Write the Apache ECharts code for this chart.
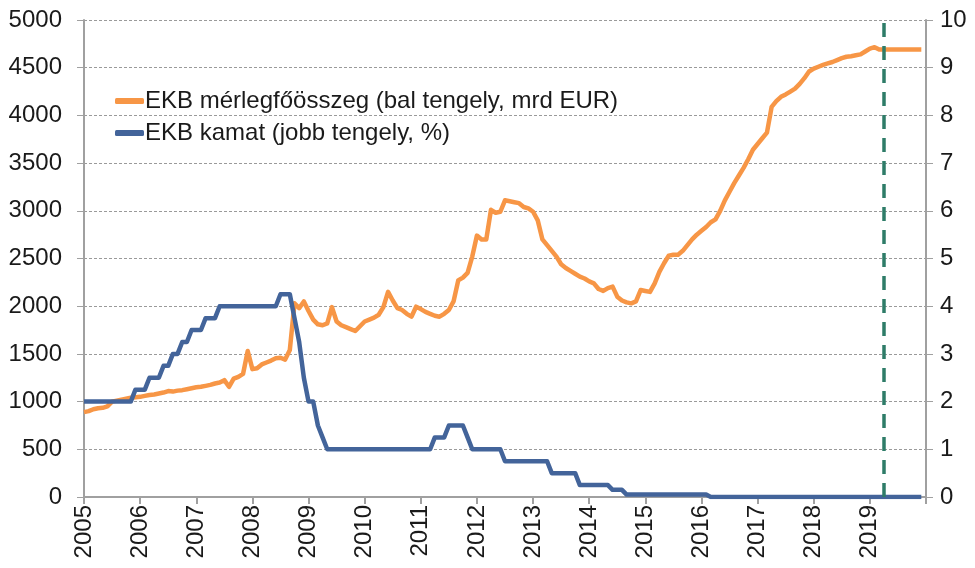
<!DOCTYPE html>
<html>
<head>
<meta charset="utf-8">
<script src="https://cdn.jsdelivr.net/npm/echarts@6/dist/echarts.min.js"></script>
<style>
  html, body { margin: 0; padding: 0; background: #fff; }
  #chart { width: 975px; height: 568px; }
</style>
</head>
<body>
<div id="chart"></div>
<script>
// havi adatok, 2005-01 .. 2019-12
var startYear = 2005;
var yearTicks = [2005, 2006, 2007, 2008, 2009, 2010, 2011, 2012, 2013, 2014, 2015, 2016, 2017, 2018, 2019, 2020];
var leftTicks = [0, 500, 1000, 1500, 2000, 2500, 3000, 3500, 4000, 4500, 5000];
var rightTicks = [0, 1, 2, 3, 4, 5, 6, 7, 8, 9, 10];
var markerYear = 2019.25; // szaggatott függőleges vonal

var legendNames = ["EKB mérlegfőösszeg (bal tengely, mrd EUR)", "EKB kamat (jobb tengely, %)"];

// EKB mérlegfőösszeg, mrd EUR
var balanceSheet = [
  890, 900, 920, 930, 935, 950, 1000, 1010, 1020, 1030, 1040, 1045,
  1050, 1060, 1070, 1075, 1085, 1095, 1110, 1105, 1115, 1120, 1130, 1140,
  1150, 1155, 1165, 1175, 1190, 1200, 1225, 1155, 1240, 1260, 1290, 1530,
  1340, 1350, 1390, 1410, 1430, 1455, 1460, 1440, 1540, 2030, 1980, 2050,
  1950, 1860, 1810, 1800, 1820, 1990, 1840, 1800, 1780, 1760, 1740, 1790,
  1840, 1860, 1880, 1910, 1990, 2150, 2060, 1980, 1960, 1920, 1890, 1995,
  1970, 1940, 1920, 1900, 1890, 1920, 1960, 2050, 2270, 2300, 2350, 2520,
  2740, 2700, 2700, 3010, 2980, 2990, 3110, 3100, 3090, 3080, 3040, 3025,
  2990, 2900, 2700, 2640, 2580, 2520, 2440, 2400, 2370, 2340, 2310, 2290,
  2260, 2240, 2180, 2160, 2190, 2205, 2100, 2060, 2040, 2030, 2050, 2170,
  2160, 2150, 2240, 2360, 2450, 2530, 2540, 2540, 2580, 2640, 2700, 2750,
  2790, 2830, 2880, 2910, 3000, 3110, 3200, 3290, 3370, 3450, 3540, 3640,
  3700, 3760, 3820, 4090, 4150, 4195, 4220, 4250, 4280, 4330, 4390, 4460,
  4490, 4510, 4530, 4545, 4560, 4580, 4600, 4615, 4620, 4630, 4640, 4670,
  4700, 4715, 4690, 4690, 4690, 4690, 4690, 4690, 4690, 4690, 4690, 4690
];

// EKB irányadó kamat, %
var ecbRate = [
  2.0, 2.0, 2.0, 2.0, 2.0, 2.0, 2.0, 2.0, 2.0, 2.0, 2.0, 2.25,
  2.25, 2.25, 2.5, 2.5, 2.5, 2.75, 2.75, 3.0, 3.0, 3.25, 3.25, 3.5,
  3.5, 3.5, 3.75, 3.75, 3.75, 4.0, 4.0, 4.0, 4.0, 4.0, 4.0, 4.0,
  4.0, 4.0, 4.0, 4.0, 4.0, 4.0, 4.25, 4.25, 4.25, 3.75, 3.25, 2.5,
  2.0, 2.0, 1.5, 1.25, 1.0, 1.0, 1.0, 1.0, 1.0, 1.0, 1.0, 1.0,
  1.0, 1.0, 1.0, 1.0, 1.0, 1.0, 1.0, 1.0, 1.0, 1.0, 1.0, 1.0,
  1.0, 1.0, 1.0, 1.25, 1.25, 1.25, 1.5, 1.5, 1.5, 1.5, 1.25, 1.0,
  1.0, 1.0, 1.0, 1.0, 1.0, 1.0, 0.75, 0.75, 0.75, 0.75, 0.75, 0.75,
  0.75, 0.75, 0.75, 0.75, 0.5, 0.5, 0.5, 0.5, 0.5, 0.5, 0.25, 0.25,
  0.25, 0.25, 0.25, 0.25, 0.25, 0.15, 0.15, 0.15, 0.05, 0.05, 0.05, 0.05,
  0.05, 0.05, 0.05, 0.05, 0.05, 0.05, 0.05, 0.05, 0.05, 0.05, 0.05, 0.05,
  0.05, 0.05, 0, 0, 0, 0, 0, 0, 0, 0, 0, 0,
  0, 0, 0, 0, 0, 0, 0, 0, 0, 0, 0, 0,
  0, 0, 0, 0, 0, 0, 0, 0, 0, 0, 0, 0,
  0, 0, 0, 0, 0, 0, 0, 0, 0, 0, 0, 0
];

// hónapok tört évként az x tengelyre
function toPairs(arr) {
  return arr.map(function (v, i) { return [startYear + i / 12, v]; });
}

var fontFamily = "'Liberation Sans', Arial, sans-serif";
var textColor = "#1a1a1a";
var axisGray = "#a0a0a0";

var myChart = echarts.init(document.getElementById("chart"));
myChart.setOption({
  animation: false,
  textStyle: { fontFamily: fontFamily },
  grid: { left: 84, right: 49, top: 20, bottom: 71 },
  legend: {
    orient: "vertical",
    left: 110,
    top: 84,
    itemWidth: 29,
    itemHeight: 6,
    itemGap: 8,
    data: [
      { name: legendNames[0], icon: "roundRect" },
      { name: legendNames[1], icon: "roundRect" }
    ],
    textStyle: { color: textColor, fontSize: 24, fontFamily: fontFamily, padding: [0, 0, 0, -4] }
  },
  xAxis: {
    type: "value",
    min: yearTicks[0],
    max: yearTicks[yearTicks.length - 1],
    interval: 1,
    splitLine: { show: false },
    axisLine: { lineStyle: { color: axisGray, width: 2 } },
    axisTick: { show: true, length: 7, lineStyle: { color: axisGray, width: 2 } },
    axisLabel: {
      rotate: 90,
      margin: 8,
      fontSize: 24,
      color: textColor,
      formatter: function (v) { return v === 2020 ? "" : String(v); }
    }
  },
  yAxis: [
    {
      type: "value",
      min: leftTicks[0],
      max: leftTicks[leftTicks.length - 1],
      interval: 500,
      axisLine: { show: true, lineStyle: { color: axisGray, width: 2 } },
      axisTick: { show: true, length: 7, lineStyle: { color: axisGray } },
      splitLine: { show: true, lineStyle: { color: "#9a9a9a", type: [3, 2], width: 1 } },
      axisLabel: { margin: 22, fontSize: 24, color: textColor, formatter: function (v) { return String(v); } }
    },
    {
      type: "value",
      position: "right",
      min: rightTicks[0],
      max: rightTicks[rightTicks.length - 1],
      interval: 1,
      axisLine: { show: true, lineStyle: { color: axisGray, width: 2 } },
      axisTick: { show: true, length: 7, lineStyle: { color: axisGray } },
      splitLine: { show: false },
      axisLabel: { margin: 14, fontSize: 24, color: textColor }
    }
  ],
  series: [
    {
      name: legendNames[0],
      type: "line",
      yAxisIndex: 0,
      data: toPairs(balanceSheet),
      showSymbol: false,
      itemStyle: { color: "#f79646" },
      lineStyle: { color: "#f79646", width: 4.5, join: "round" },
      markLine: {
        silent: true,
        symbol: "none",
        label: { show: false },
        lineStyle: { color: "#2e7c68", width: 3.5, type: [14, 9] },
        data: [{ xAxis: markerYear }]
      }
    },
    {
      name: legendNames[1],
      type: "line",
      yAxisIndex: 1,
      data: toPairs(ecbRate),
      showSymbol: false,
      itemStyle: { color: "#43649a" },
      lineStyle: { color: "#43649a", width: 4.5, join: "round" }
    }
  ]
});
</script>
</body>
</html>
